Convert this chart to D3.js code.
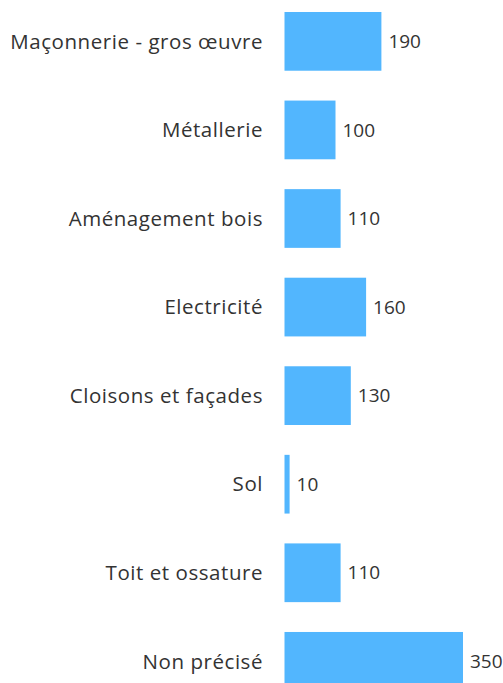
<!DOCTYPE html>
<html>
<head>
<meta charset="utf-8">
<script src="https://cdn.jsdelivr.net/npm/d3@7"></script>
<style>
  body { margin: 0; background: #fff; }
  svg text { font-family: "Open Sans", sans-serif; }
</style>
</head>
<body>
<div id="chart"></div>
<script>
const categories = [
  'Maçonnerie - gros œuvre',
  'Métallerie',
  'Aménagement bois',
  'Electricité',
  'Cloisons et façades',
  'Sol',
  'Toit et ossature',
  'Non précisé'
];
const values = [190, 100, 110, 160, 130, 10, 110, 350];

const width = 503, height = 683;

const svg = d3.select('#chart')
  .append('svg')
  .attr('width', width)
  .attr('height', height);

const x = d3.scaleLinear()
  .domain([0, 350])
  .range([284.5, 463]);

const y = d3.scaleBand()
  .domain(categories)
  .range([12, 690.7])
  .paddingInner(0.337)
  .paddingOuter(0);

svg.selectAll('rect')
  .data(values)
  .enter()
  .append('rect')
  .attr('x', x(0))
  .attr('y', (d, i) => y(categories[i]))
  .attr('width', d => x(d) - x(0))
  .attr('height', y.bandwidth())
  .attr('fill', '#52b6fe');

svg.selectAll('text.cat')
  .data(categories)
  .enter()
  .append('text')
  .attr('class', 'cat')
  .attr('x', 263)
  .attr('y', d => y(d) + y.bandwidth() / 2)
  .attr('dy', '0.35em')
  .attr('text-anchor', 'end')
  .attr('font-size', 20.5)
  .attr('letter-spacing', '0.55px')
  .attr('fill', '#333')
  .text(d => d);

svg.selectAll('text.val')
  .data(values)
  .enter()
  .append('text')
  .attr('class', 'val')
  .attr('x', d => x(d) + 7)
  .attr('y', (d, i) => y(categories[i]) + y.bandwidth() / 2)
  .attr('dy', '0.35em')
  .attr('font-size', 19)
  .attr('fill', '#333')
  .text(d => d);
</script>
</body>
</html>
